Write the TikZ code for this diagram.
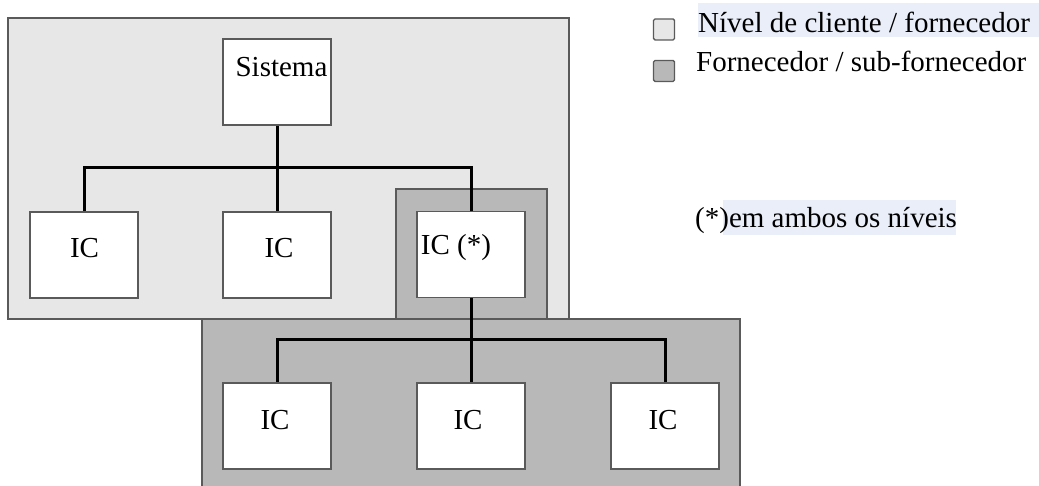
\documentclass[tikz,border=0pt]{standalone}
\usepackage{fontspec}
\setmainfont{Liberation Serif}
\definecolor{nivel}{HTML}{E7E7E7}
\definecolor{forn}{HTML}{B8B8B8}
\definecolor{bordo}{HTML}{5A5A5A}
\definecolor{marca}{HTML}{E9EEF8}
\begin{document}
\begin{tikzpicture}[x=1pt, y=-1pt,
        box/.style={draw=bordo, line width=1.8pt, fill=white, minimum width=108pt, minimum height=86pt, inner sep=0pt},
        area/.style={draw=bordo, line width=1.8pt},
        txt/.style={anchor=base, inner sep=0pt, font=\fontsize{29}{34}\selectfont},
        swatch/.style={draw=bordo, line width=1.4pt, rounded corners=1.5pt, minimum size=21pt, inner sep=0pt},
        link/.style={black, line width=3pt}
    ]
    \useasboundingbox (0,0) rectangle (1039,486);
    % Areas
    \draw[area, fill=nivel] (8,18) rectangle (569,319);
    \draw[area, fill=forn] (396,189) rectangle (547,319);
    \draw[area, fill=forn] (202,319) rectangle (740,492);
    % Boxes
    \node[box] (sys) at (277,82) {};
    \node[box] (ic1) at (84,255) {};
    \node[box] (ic2) at (277,255) {};
    \node[box] (ic3) at (471,254.5) {};
    \node[box] (ic4) at (277,426) {};
    \node[box] (ic5) at (471,426) {};
    \node[box] (ic6) at (665,426) {};
    \coordinate (top) at (277,168);
    \coordinate (bot) at (471,340);
    % Edges
    \draw[link] (sys) -- (top);
    \draw[link] (ic1) |- (top) -| (ic3);
    \draw[link] (top) -- (ic2);
    \draw[link] (ic3) -- (bot);
    \draw[link] (ic4) |- (bot) -| (ic6);
    \draw[link] (bot) -- (ic5);
    % Labels
    \node[txt] (tsys) at (281.5,77) {Sistema};
    \node[txt] (t1) at (84.5,258) {IC};
    \node[txt] (t2) at (279,258) {IC};
    \node[txt] (t3) at (456,255) {IC (*)};
    \node[txt] (t4) at (275,429) {IC};
    \node[txt] (t5) at (468,429) {IC};
    \node[txt] (t6) at (663,429) {IC};
    % Legend
    \node[swatch, fill=nivel] (sw1) at (664,29.5) {};
    \node[swatch, fill=forn] (sw2) at (664,71) {};
    \fill[marca] (698,3) rectangle (1039,37);
    \node[txt, anchor=base west] (leg1) at (698,33) {Nível de cliente / fornecedor};
    \node[txt, anchor=base west] (leg2) at (696,72) {Fornecedor / sub-fornecedor};
    \fill[marca] (723,200) rectangle (956,235);
    \node[txt, anchor=base west] (nota) at (695,228) {(*)em ambos os níveis};
\end{tikzpicture}
\end{document}
